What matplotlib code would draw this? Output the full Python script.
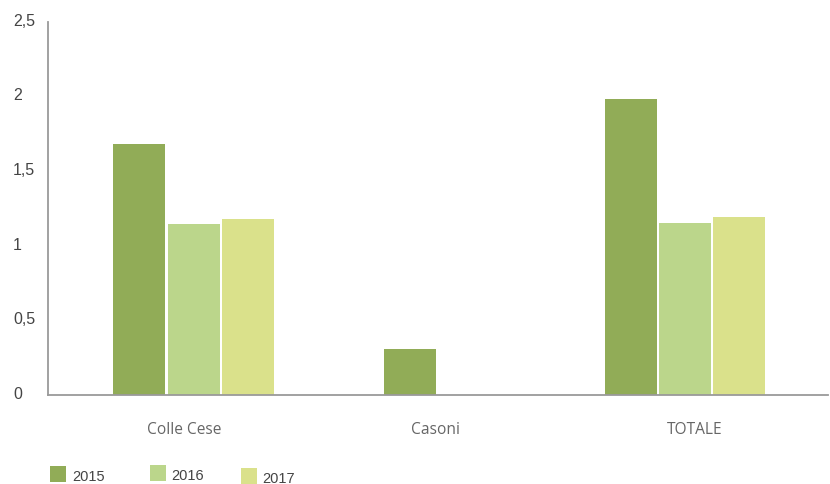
import numpy as np
import matplotlib
matplotlib.use("Agg")
import matplotlib.pyplot as plt
from matplotlib.transforms import ScaledTranslation
from matplotlib.patches import Rectangle

categories = ["Colle Cese", "Casoni", "TOTALE"]
series_names = ["2015", "2016", "2017"]
v2015 = [1.68, 0.31, 1.98]
v2016 = [1.145, np.nan, 1.15]
v2017 = [1.18, np.nan, 1.19]
yticks = [0, 0.5, 1, 1.5, 2, 2.5]
ytick_labels = ["0", "0,5", "1", "1,5", "2", "2,5"]

colors = ["#91AC57", "#BBD68B", "#DAE18B"]
group_shift = [0.0615, 0.102, -0.05]
label_shift_px = [6, -2, -3]

W, H = 830, 485
fig = plt.figure(figsize=(W / 100, H / 100), dpi=100)
ax = fig.add_axes([48 / W, (H - 396) / H, (828 - 48) / W, (396 - 22.7) / H])

x = np.arange(len(categories))
width = 0.2
stride = 0.2096
for i, (vals, c) in enumerate(zip([v2015, v2016, v2017], colors)):
    pos = x + np.array(group_shift) + (i - 1) * stride
    ax.bar(pos, vals, width=width, color=c, linewidth=0)

ax.set_xlim(-0.5, 2.5)
ax.set_ylim(0, 2.5)
ax.set_xticks(x)
ax.set_xticklabels(categories, fontsize=11.2, color="#666666", family="Open Sans")
ax.tick_params(axis="x", length=0, pad=18.5)
for lab, dx in zip(ax.get_xticklabels(), label_shift_px):
    lab.set_transform(lab.get_transform() + ScaledTranslation(dx / 100, 0, fig.dpi_scale_trans))
ax.set_yticks(yticks)
ax.set_yticklabels(ytick_labels, fontsize=11.5, color="#444444",
                   family="Liberation Sans", ha="left")
ax.tick_params(axis="y", length=0, pad=25.2)
for lab in ax.get_yticklabels():
    lab.set_transform(lab.get_transform() + ScaledTranslation(0, 3 / 100, fig.dpi_scale_trans))

for s in ["top", "right"]:
    ax.spines[s].set_visible(False)
for s in ["left", "bottom"]:
    ax.spines[s].set_color("#9a9a9a")
    ax.spines[s].set_linewidth(1.3)

# legend drawn manually
leg_sq = [(50, 467), (150, 466), (241, 469)]
leg_txt = [(72, 477), (171, 476), (262, 479)]
for (sx, sy), (tx, ty), c, name in zip(leg_sq, leg_txt, colors, series_names):
    fig.patches.append(Rectangle((sx / W, 1 - (sy + 16) / H), 16 / W, 16 / H,
                                 transform=fig.transFigure, color=c, linewidth=0))
    fig.text(tx / W, 1 - ty / H, name, fontsize=10.5, color="#444444",
             family="Liberation Sans", ha="left", va="center")

fig.savefig("out.png", dpi=100)
